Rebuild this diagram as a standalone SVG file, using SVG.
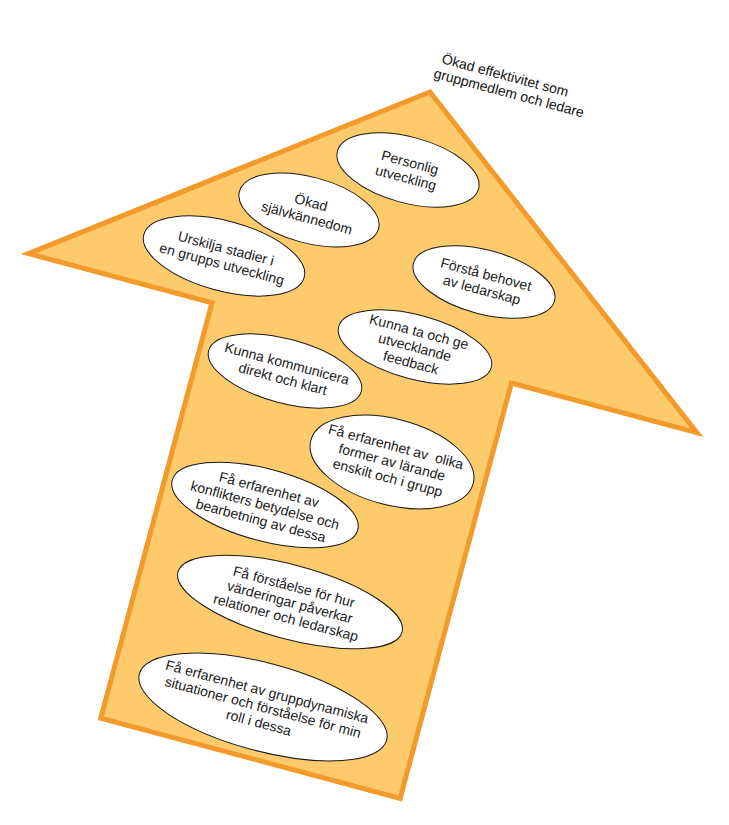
<svg xmlns="http://www.w3.org/2000/svg" width="729" height="825" viewBox="0 0 729 825">
<style>
.arrow{fill:#FDCB6C;stroke:#F29A2C;stroke-width:5;stroke-linejoin:miter}
.ov{fill:#FFFFFF;stroke:#1a1a1a;stroke-width:1}
.t{font-family:"Liberation Sans",Arial,sans-serif;font-size:14px;fill:#1a1a1a;text-anchor:middle;white-space:pre}
.title{font-family:"Liberation Sans",Arial,sans-serif;font-size:14px;fill:#111;text-anchor:start}
</style>
<rect width="729" height="825" fill="#FFFFFF"/>
<g id="arrow" transform="translate(430,92) rotate(15)">
<polygon class="arrow" points="0,0 346,260 154,260 154,690 -156,690 -156,260 -346,260"/>
</g>
<g id="title" transform="translate(441,63) rotate(15)">
<text class="title" x="0" y="0">Ökad effektivitet som</text>
<text class="title" x="-4" y="16">gruppmedlem och ledare</text>
</g>
<g id="n1" transform="translate(408,170) rotate(15)">
<ellipse class="ov" rx="73" ry="33"/>
<text class="t" y="-3">Personlig</text><text class="t" y="13">utveckling</text>
</g>
<g id="n2" transform="translate(309,210) rotate(15)">
<ellipse class="ov" rx="72" ry="33"/>
<text class="t" y="-3">Ökad</text><text class="t" y="13">självkännedom</text>
</g>
<g id="n3" transform="translate(224,256) rotate(15)">
<ellipse class="ov" rx="83" ry="35"/>
<text class="t" y="-3">Urskilja stadier i</text><text class="t" y="13">en grupps utveckling</text>
</g>
<g id="n4" transform="translate(484,282) rotate(15)">
<ellipse class="ov" rx="73" ry="32"/>
<text class="t" y="-3">Förstå behovet</text><text class="t" y="13">av ledarskap</text>
</g>
<g id="n5" transform="translate(415,347) rotate(15)">
<ellipse class="ov" rx="79" ry="32"/>
<text class="t" y="-11">Kunna ta och ge</text><text class="t" y="5">utvecklande</text><text class="t" y="21">feedback</text>
</g>
<g id="n6" transform="translate(285,371) rotate(15)">
<ellipse class="ov" rx="79" ry="32"/>
<text class="t" y="-3">Kunna kommunicera</text><text class="t" y="13">direkt och klart</text>
</g>
<g id="n7" transform="translate(392,462) rotate(15)">
<ellipse class="ov" rx="84" ry="43"/>
<text class="t" y="-11">Få erfarenhet av  olika</text><text class="t" y="5">former av lärande</text><text class="t" y="21">enskilt och i grupp</text>
</g>
<g id="n8" transform="translate(265,505) rotate(15)">
<ellipse class="ov" rx="96" ry="36"/>
<text class="t" y="-11">Få erfarenhet av</text><text class="t" y="5">konflikters betydelse och</text><text class="t" y="21">bearbetning av dessa</text>
</g>
<g id="n9" transform="translate(290,602) rotate(15)">
<ellipse class="ov" rx="116" ry="37"/>
<text class="t" y="-11">Få förståelse för hur</text><text class="t" y="5">värderingar påverkar</text><text class="t" y="21">relationer och ledarskap</text>
</g>
<g id="n10" transform="translate(263,707) rotate(15)">
<ellipse class="ov" rx="128" ry="44"/>
<text class="t" y="-11">Få erfarenhet av gruppdynamiska</text><text class="t" y="5">situationer och förståelse för min</text><text class="t" y="21">roll i dessa</text>
</g>
<g id="connectors"></g>
</svg>
